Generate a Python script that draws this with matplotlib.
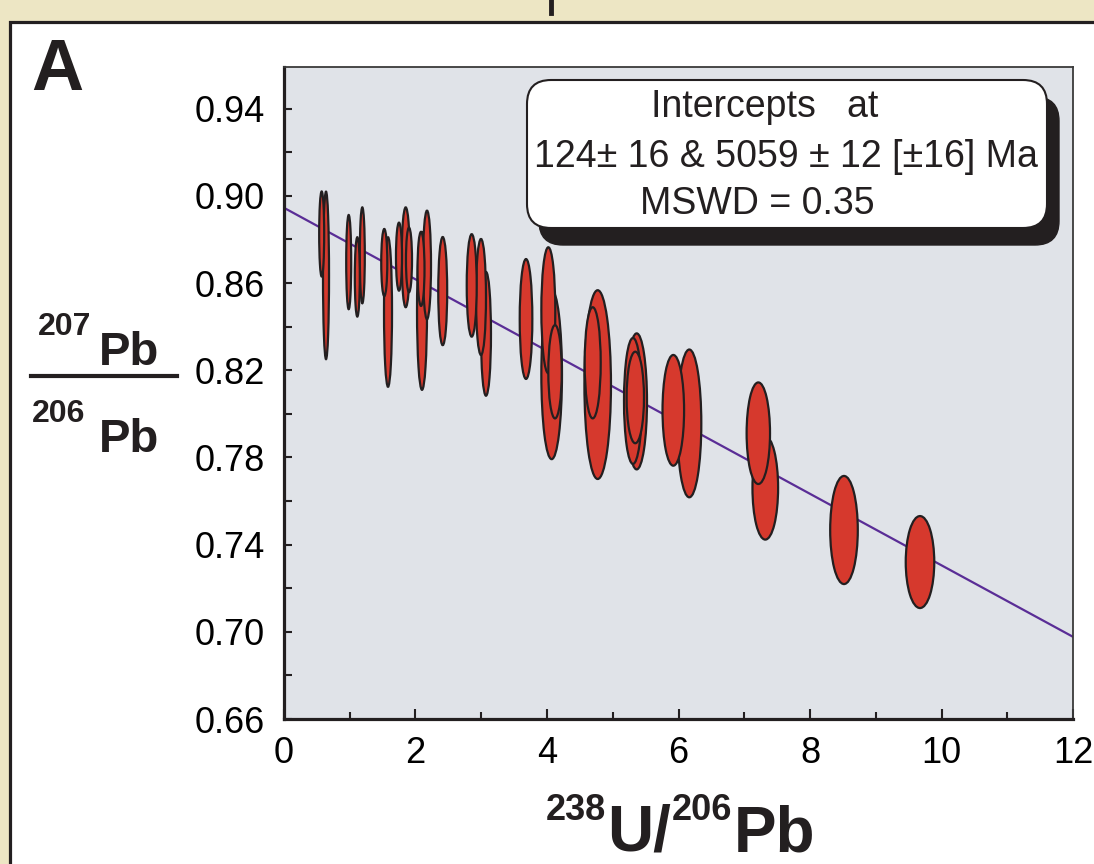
import matplotlib
matplotlib.use("Agg")
import matplotlib.pyplot as plt
from matplotlib.patches import Ellipse, FancyBboxPatch, Rectangle
from matplotlib.lines import Line2D
from matplotlib.transforms import IdentityTransform
import numpy as np

# 238U/206Pb vs 207Pb/206Pb, error ellipses (centre, half-widths)
u_pb = [0.573, 0.639, 0.984, 1.115, 1.191, 1.525, 1.582, 1.749, 1.851, 1.901,
        2.084, 2.099, 2.175, 2.414, 2.855, 2.996, 3.072, 3.681, 4.020, 4.071,
        4.122, 4.771, 4.695, 5.364, 5.343, 5.308, 5.921, 6.164, 7.214, 7.320,
        8.517, 9.673]
pb_pb = [0.8825, 0.8635, 0.8696, 0.8628, 0.8727, 0.8694, 0.8467, 0.8721, 0.8718, 0.8706,
         0.8665, 0.8472, 0.8683, 0.8563, 0.8589, 0.8536, 0.8367, 0.8435, 0.8475, 0.8180,
         0.8193, 0.8134, 0.8234, 0.8057, 0.8075, 0.8059, 0.8016, 0.7956, 0.7911, 0.7660,
         0.7467, 0.7320]
err_x = [0.038, 0.046, 0.038, 0.038, 0.038, 0.046, 0.061, 0.046, 0.061, 0.046,
         0.053, 0.076, 0.061, 0.068, 0.076, 0.076, 0.076, 0.096, 0.106, 0.157,
         0.102, 0.202, 0.122, 0.157, 0.132, 0.137, 0.164, 0.183, 0.178, 0.195,
         0.210, 0.217]
err_y = [0.0195, 0.0384, 0.0216, 0.0182, 0.0220, 0.0154, 0.0343, 0.0156, 0.0229, 0.0148,
         0.0170, 0.0362, 0.0249, 0.0248, 0.0235, 0.0266, 0.0284, 0.0275, 0.0289, 0.0388,
         0.0214, 0.0433, 0.0255, 0.0312, 0.0210, 0.0289, 0.0254, 0.0339, 0.0233, 0.0237,
         0.0248, 0.0211]

# regression line through the data (ends at plot edges)
line_x = [0, 12]
line_y = [0.8945, 0.6977]

box_lines = ["Intercepts   at", "124\u00b1 16 & 5059 \u00b1 12 [\u00b116] Ma", "MSWD = 0.35"]

W, H = 1094, 864
INK = "#231f20"


def fx(px):
    return px / W


def fy(py):
    return 1 - py / H


fig = plt.figure(figsize=(W / 100, H / 100), dpi=100, facecolor="#ede6c4")
renderer = fig.canvas.get_renderer()

# white panel with black frame
fig.add_artist(Rectangle((10, -20), 1120, H - 22 + 20, transform=IdentityTransform(),
                         facecolor="white", edgecolor=INK, linewidth=2.3, zorder=0))
# fragment of the letter above the panel
fig.add_artist(Line2D([fx(551), fx(551)], [1.0, fy(13)], color=INK, linewidth=3.5))

ax = fig.add_axes([fx(284), fy(719), fx(1073) - fx(284), fy(67) - fy(719)])
ax.set_facecolor("#e0e3e8")
ax.set_xlim(0, 12)
ax.set_ylim(0.66, 0.9591)

ax.plot(line_x, line_y, color="#5a2d96", linewidth=1.6, zorder=2)

order = np.argsort([-a * b for a, b in zip(err_x, err_y)])
for i in order:
    e = Ellipse((u_pb[i], pb_pb[i]), 2 * err_x[i], 2 * err_y[i],
                facecolor="#d6392d", edgecolor=INK, linewidth=1.6, zorder=3)
    ax.add_patch(e)

ax.set_xticks(np.arange(0, 13, 2))
ax.set_xticks(np.arange(1, 12, 2), minor=True)
ax.set_yticks(np.arange(0.66, 0.95, 0.04))
ax.set_yticks(np.arange(0.68, 0.95, 0.04), minor=True)
ax.set_yticklabels(["%.2f" % v for v in np.arange(0.66, 0.95, 0.04)])
ax.tick_params(axis="both", which="both", direction="in", color=INK, width=1.5,
               labelsize=26, labelfontfamily="Liberation Sans")
ax.tick_params(axis="x", which="major", length=7.5, pad=12)
ax.tick_params(axis="x", which="minor", length=5)
ax.tick_params(axis="y", which="both", length=6, pad=14)
for s in ["left", "bottom"]:
    ax.spines[s].set_linewidth(2.3)
    ax.spines[s].set_color(INK)
for s in ["top", "right"]:
    ax.spines[s].set_linewidth(1.3)
    ax.spines[s].set_color("#3a3a3a")

# intercept box with drop shadow
fig.add_artist(FancyBboxPatch((539, H - 245), 520, 148, boxstyle="round,pad=0,rounding_size=24",
                              transform=IdentityTransform(), facecolor=INK,
                              edgecolor=INK, zorder=5))
fig.add_artist(FancyBboxPatch((527, H - 228), 520, 148, boxstyle="round,pad=0,rounding_size=24",
                              transform=IdentityTransform(), facecolor="white",
                              edgecolor=INK, linewidth=1.5, zorder=6))
for txt, xc, yc in zip(box_lines, [765, 786, 757], [107, 157, 204]):
    fig.text(fx(xc), fy(yc), txt, ha="center", va="center", fontsize=27,
             family="Liberation Sans", color=INK, zorder=7)

bold = dict(fontweight="bold", family="Liberation Sans", color=INK, va="baseline", ha="left")

# panel letter
fig.text(fx(31), fy(90), "A", fontsize=52, **bold)

# y label as a fraction
fig.text(fx(38), fy(335), "207", fontsize=23, **bold)
fig.text(fx(99), fy(365), "Pb", fontsize=34, **bold)
fig.add_artist(Line2D([fx(31), fx(177)], [fy(376), fy(376)], color=INK, linewidth=3))
fig.text(fx(32), fy(422), "206", fontsize=23, **bold)
fig.text(fx(99), fy(452), "Pb", fontsize=34, **bold)

# x label, pieces placed one after another
pieces = [("238", 26, 820), ("U/", 46, 851), ("206", 26, 820), ("Pb", 46, 851)]
xpos = 546
for txt, size, base in pieces:
    t = fig.text(fx(xpos), fy(base), txt, fontsize=size, **bold)
    xpos += t.get_window_extent(renderer).width + 1

fig.savefig("out.png", dpi=100, facecolor=fig.get_facecolor())
